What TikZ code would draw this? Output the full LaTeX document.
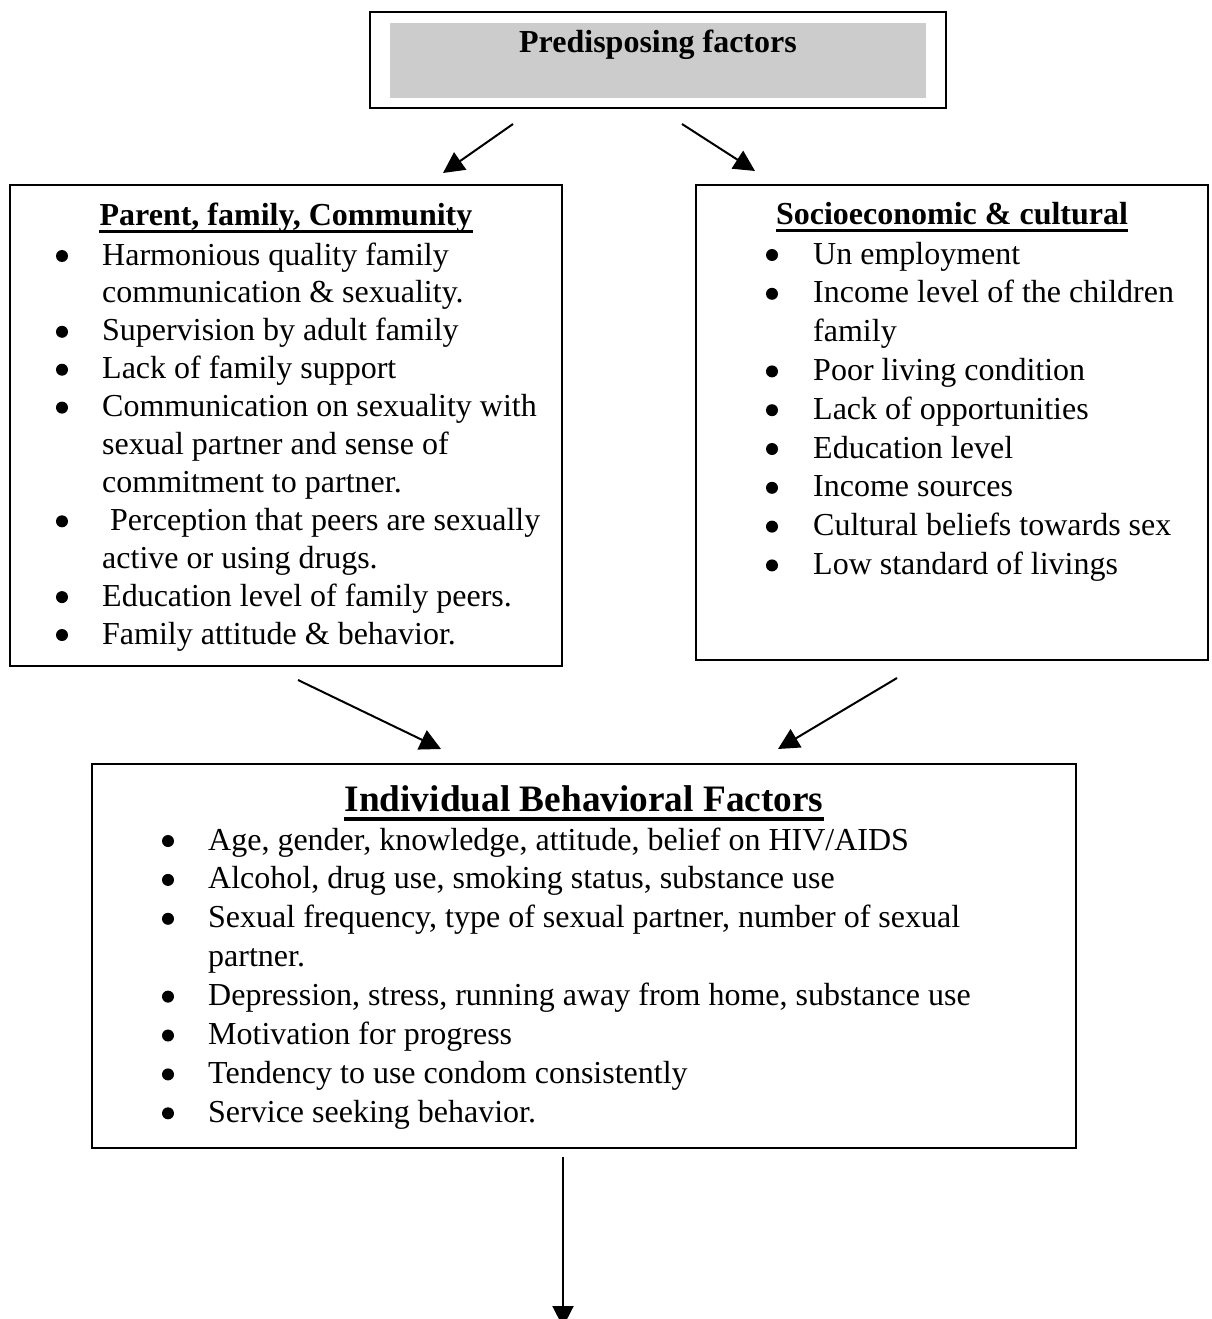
\documentclass[tikz,border=0pt]{standalone}
\usepackage{fontspec}
\setmainfont{Liberation Serif}
\usetikzlibrary{arrows.meta}

\begin{document}
\begin{tikzpicture}[x=1pt,y=-1pt,
  boxframe/.style={draw=black, line width=2pt, inner sep=0pt, minimum width=#1},
  body/.style={anchor=base west, inner sep=0pt, font=\fontsize{32}{38}\selectfont},
  dot/.style={circle, fill=black, inner sep=0pt, minimum size=12pt},
  heading/.style={anchor=base, inner sep=0pt, font=\fontsize{32}{38}\selectfont\bfseries},
  bigheading/.style={anchor=base, inner sep=0pt, font=\fontsize{37.3}{43}\selectfont\bfseries},
  flow/.style={line width=2pt, -{Triangle[length=21pt,width=21pt]}},
]
\useasboundingbox (0,0) rectangle (1211,1319);

% ---- top box -------------------------------------------------------------
\node[boxframe=576pt, minimum height=96pt] (top) at (658,60) {};
\node[fill=black!20, inner sep=0pt, minimum width=536pt, minimum height=75pt] (topfill) at (658,60.5) {};
\node[heading] (toptitle) at (658,53) {Predisposing factors};

% ---- parent, family, community ------------------------------------------
\node[boxframe=552pt, minimum height=481pt] (family) at (286,425.5) {};
\node[heading] (famtitle) at (286,225) {Parent, family, Community};
\draw[line width=3pt] ([yshift=-6pt]famtitle.base west) -- ([yshift=-6pt]famtitle.base east);
\foreach \b/\t [count=\i] in {
  1/{Harmonious quality family},
  0/{communication \& sexuality.},
  1/{Supervision by adult family},
  1/{Lack of family support},
  1/{Communication on sexuality with},
  0/{sexual partner and sense of},
  0/{commitment to partner.},
  1/{\ Perception that peers are sexually},
  0/{active or using drugs.},
  1/{Education level of family peers.},
  1/{Family attitude \& behavior.}} {
  \node[body] (fam\i) at (102,{265+(\i-1)*37.9}) {\t};
  \ifnum\b=1 \node[dot] (famdot\i) at (62,{256+(\i-1)*37.9}) {}; \fi
}

% ---- socioeconomic & cultural -------------------------------------------
\node[boxframe=512pt, minimum height=475pt] (socio) at (952,422.5) {};
\node[heading] (soctitle) at (952,224) {Socioeconomic \& cultural};
\draw[line width=3pt] ([yshift=-6pt]soctitle.base west) -- ([yshift=-6pt]soctitle.base east);
\foreach \b/\t [count=\i] in {
  1/{Un employment},
  1/{Income level of the children},
  0/{family},
  1/{Poor living condition},
  1/{Lack of opportunities},
  1/{Education level},
  1/{Income sources},
  1/{Cultural beliefs towards sex},
  1/{Low standard of livings}} {
  \node[body] (soc\i) at (813,{264+(\i-1)*38.8}) {\t};
  \ifnum\b=1 \node[dot] (socdot\i) at (772,{255+(\i-1)*38.8}) {}; \fi
}

% ---- individual behavioral factors --------------------------------------
\node[boxframe=984pt, minimum height=384pt] (indiv) at (584,956) {};
\node[bigheading] (indtitle) at (584,811) {Individual Behavioral Factors};
\draw[line width=3.5pt] ([yshift=-8pt]indtitle.base west) -- ([yshift=-8pt]indtitle.base east);
\foreach \b/\t [count=\i] in {
  1/{Age, gender, knowledge, attitude, belief on HIV/AIDS},
  1/{Alcohol, drug use, smoking status, substance use},
  1/{Sexual frequency, type of sexual partner, number of sexual},
  0/{partner.},
  1/{Depression, stress, running away from home, substance use},
  1/{Motivation for progress},
  1/{Tendency to use condom consistently},
  1/{Service seeking behavior.}} {
  \node[body] (ind\i) at (208,{850+(\i-1)*38.9}) {\t};
  \ifnum\b=1 \node[dot] (inddot\i) at (168,{841+(\i-1)*38.9}) {}; \fi
}

% ---- connectors ---------------------------------------------------------
\coordinate (p1) at (513,124);  \coordinate (q1) at (443,173);
\coordinate (p2) at (682,124);  \coordinate (q2) at (755,171);
\coordinate (p3) at (298,680);  \coordinate (q3) at (441,749);
\coordinate (p4) at (897,678);  \coordinate (q4) at (778,749);
\coordinate (p5) at (563,1157); \coordinate (q5) at (563,1327);
\draw[flow] (p1) -- (q1);
\draw[flow] (p2) -- (q2);
\draw[flow] (p3) -- (q3);
\draw[flow] (p4) -- (q4);
\draw[flow] (p5) -- (q5);
\end{tikzpicture}
\end{document}
